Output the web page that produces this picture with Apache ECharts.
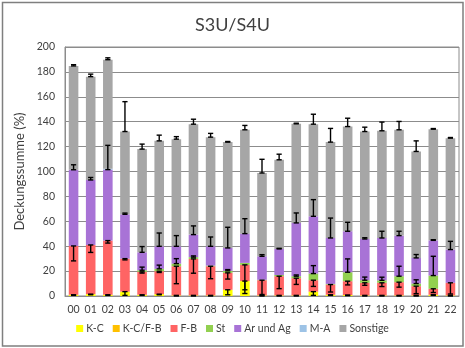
<!DOCTYPE html>
<html>
<head>
<meta charset="utf-8">
<script src="https://cdn.jsdelivr.net/npm/echarts@6/dist/echarts.min.js"></script>
<style>
html, body { margin: 0; padding: 0; background: #ffffff; }
#chart { width: 465px; height: 348px; }
</style>
</head>
<body>
<div id="chart"></div>
<script>
// Plot numbers along the x axis
const categories = ['00','01','02','03','04','05','06','07','08','09','10','11',
                    '12','13','14','15','16','17','18','19','20','21','22'];
const yTicks = [0, 20, 40, 60, 80, 100, 120, 140, 160, 180, 200];

// Mean cover (%) per layer, stacked bottom to top
const kc     = [1, 1.5, 1, 3.5, 1, 1.5, 0.5, 0.5, 0.5, 5, 12, 0.5, 0.5, 0.5, 3.5, 1, 0.8, 0.5, 0.5, 0.5, 0.5, 1, 0.5];
const kcfb   = [0, 0, 0, 0, 0, 0, 0, 0, 0, 0, 0, 0, 0, 0, 0, 0, 0, 0, 0, 0, 0, 0, 0];
const fb     = [39.2, 39.5, 43.5, 26.5, 18.4, 18.4, 23.4, 29.3, 23.4, 13.6, 13, 12.2, 15.4, 13.8, 9.2, 8.2, 11.1, 10.1, 10.1, 10.6, 7.4, 4.8, 10.1];
const st     = [0, 0, 0, 0, 1.3, 1.9, 2.1, 1.4, 0.5, 1.6, 1.6, 0.3, 1, 1.6, 5.3, 0.5, 7.2, 2.1, 2, 4.8, 2.1, 10.6, 0];
const arAg   = [61.2, 52.2, 57, 35.6, 14.4, 18.1, 13.9, 18.1, 15.5, 18.4, 23.5, 18.9, 20.9, 42.8, 46, 36.9, 32.9, 33.1, 34, 32.6, 20.6, 28.3, 26.7];
const ma     = [0, 0, 0.8, 0, 0, 0, 0, 0, 0, 0, 0, 0, 0, 0, 0, 0, 0, 0, 0, 0, 0, 0, 0];
const sonst  = [83.4, 83, 87.5, 66.5, 82.9, 84.7, 86.1, 88.7, 87.7, 85, 83.4, 66.9, 71.6, 79.6, 74, 77, 84.1, 86.3, 86.1, 85, 85.5, 89.3, 89.5];

// Standard deviations per layer
const errKc    = [0.5, 0.5, 0.5, 3, 0.5, 0.5, 0.5, 0.5, 0.5, 4, 10, 0.5, 0.5, 0.5, 3, 0.5, 0.5, 0.5, 0.5, 0.5, 0.5, 0.5, 0.5];
const errFb    = [12, 6, 2, 1, 1, 1, 14, 11.5, 10, 5, 20, 11.5, 10, 5, 5, 6, 3, 2, 3, 4, 6, 3, 9];
const errSt    = [0, 0, 0, 0, 2.5, 3, 4, 1, 0, 1, 0, 0, 0, 1, 6.4, 0, 10.7, 2.5, 2.5, 8, 3, 15.5, 0];
const errAr    = [4, 2, 19.5, 1, 4.6, 10.7, 8.6, 7, 7.5, 16.6, 12, 1.3, 0.5, 8, 13.4, 16, 7.2, 1, 5.4, 3.5, 2.7, 0.5, 6.6];
const errSonst = [1, 2, 1.5, 24, 4, 4.6, 2, 4, 3, 0.5, 3.5, 11, 4.5, 0.5, 8, 11, 6.7, 3.5, 7, 6.7, 8.5, 0.5, 0.5];

const FONT = 'Lato';
const TEXT = '#404040';
const layers = [
  { name: 'K-C',       data: kc,    color: '#FFFF00', err: errKc,    dir: -1 },
  { name: 'K-C/F-B',   data: kcfb,  color: '#FFC000', err: null,     dir: -1 },
  { name: 'F-B',       data: fb,    color: '#FF6464', err: errFb,    dir: -1 },
  { name: 'St',        data: st,    color: '#92D050', err: errSt,    dir: 1 },
  { name: 'Ar und Ag', data: arAg,  color: '#A873D6', err: errAr,    dir: 1 },
  { name: 'M-A',       data: ma,    color: '#9DC3E6', err: null,     dir: 1 },
  { name: 'Sonstige',  data: sonst, color: '#A6A6A6', err: errSonst, dir: 1 }
];

// Running totals so each error bar starts at the top of its layer
const running = categories.map(() => 0);
const series = [];
const errorSeries = [];
layers.forEach(layer => {
  series.push({
    name: layer.name,
    type: 'bar',
    stack: 'total',
    barWidth: '56%',
    z: 2,
    itemStyle: { color: layer.color },
    emphasis: { disabled: true },
    data: layer.data
  });
  const pts = [];
  layer.data.forEach((v, i) => {
    running[i] += v;
    if (layer.err && layer.err[i] > 0) {
      pts.push([i, running[i], running[i] + layer.dir * layer.err[i]]);
    }
  });
  if (pts.length) {
    errorSeries.push({
      name: layer.name + ' SD',
      type: 'custom',
      z: 5,
      silent: true,
      encode: { x: 0, y: [1, 2] },
      data: pts,
      renderItem: function (params, api) {
        const i = api.value(0);
        const a = api.coord([i, api.value(1)]);
        const b = api.coord([i, api.value(2)]);
        const hw = 2.6;
        const style = { stroke: '#000000', lineWidth: 1.4 };
        return {
          type: 'group',
          children: [
            { type: 'line', shape: { x1: a[0], y1: a[1], x2: b[0], y2: b[1] }, style: style },
            { type: 'line', shape: { x1: a[0] - hw, y1: a[1], x2: a[0] + hw, y2: a[1] }, style: style },
            { type: 'line', shape: { x1: b[0] - hw, y1: b[1], x2: b[0] + hw, y2: b[1] }, style: style }
          ]
        };
      }
    });
  }
});

const chart = echarts.init(document.getElementById('chart'), null, { renderer: 'canvas' });
chart.setOption({
  animation: false,
  backgroundColor: '#ffffff',
  textStyle: { fontFamily: FONT },
  title: {
    text: 'S3U/S4U',
    left: 'center',
    top: 11,
    textStyle: { fontFamily: FONT, fontSize: 18, fontWeight: 'normal', color: TEXT }
  },
  graphic: [{
    type: 'rect',
    shape: { x: 2.5, y: 2.5, width: 460.5, height: 343.5 },
    style: { fill: 'none', stroke: '#7F7F7F', lineWidth: 1.5 },
    z: 100
  }],
  legend: {
    data: layers.map(l => l.name),
    bottom: 9,
    left: 'center',
    icon: 'rect',
    itemWidth: 7,
    itemHeight: 7,
    itemGap: 9,
    textStyle: { fontFamily: FONT, fontSize: 10.5, color: TEXT, padding: [0, 0, 0, -2] }
  },
  grid: { left: 65, right: 6, top: 47, bottom: 52, containLabel: false,
          show: true, borderColor: '#8C8C8C', borderWidth: 1 },
  xAxis: {
    type: 'category',
    data: categories,
    axisTick: { show: false },
    axisLine: { show: true, lineStyle: { color: '#8C8C8C', width: 1 } },
    axisLabel: { fontFamily: FONT, fontSize: 10.5, color: TEXT, margin: 8 }
  },
  yAxis: {
    type: 'value',
    min: yTicks[0],
    max: yTicks[yTicks.length - 1],
    interval: yTicks[1] - yTicks[0],
    name: 'Deckungssumme (%)',
    nameLocation: 'middle',
    nameGap: 31,
    nameTextStyle: { fontFamily: FONT, fontSize: 13, color: TEXT },
    axisLine: { show: true, lineStyle: { color: '#8C8C8C', width: 1 } },
    axisTick: { show: false },
    splitLine: { show: true, lineStyle: { color: '#8C8C8C', width: 1 } },
    axisLabel: { fontFamily: FONT, fontSize: 10.5, color: TEXT, margin: 10 }
  },
  series: series.concat(errorSeries)
});
</script>
</body>
</html>
